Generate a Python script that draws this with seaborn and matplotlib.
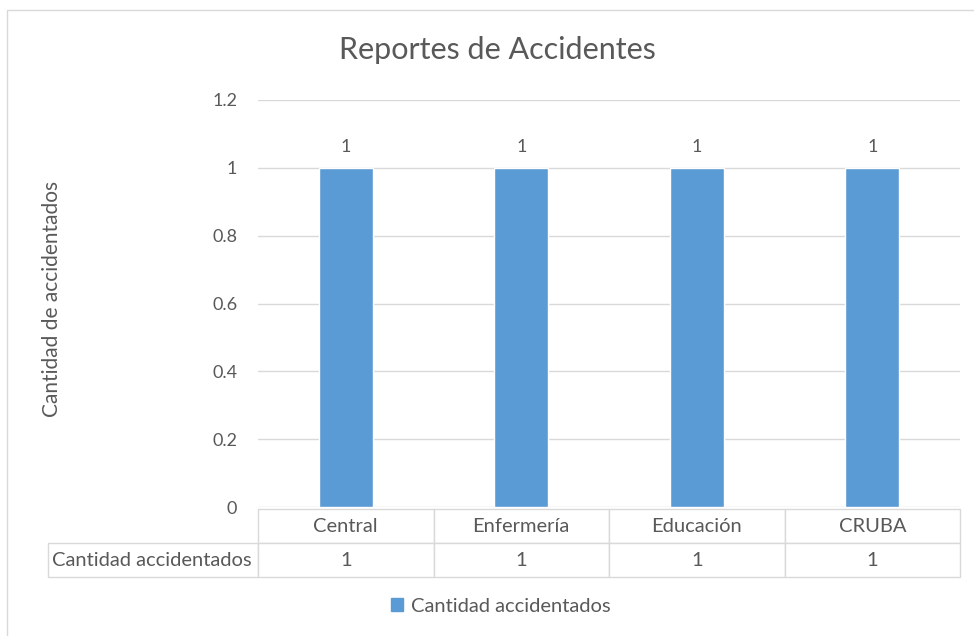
import matplotlib
matplotlib.use("Agg")
import matplotlib.pyplot as plt
import seaborn as sns
import pandas as pd
from matplotlib.patches import Rectangle

# Datos
areas = ["Central", "Enfermería", "Educación", "CRUBA"]
accidentados = [1, 1, 1, 1]
serie = "Cantidad accidentados"
yticks = [0, 0.2, 0.4, 0.6, 0.8, 1, 1.2]
ytick_labels = ["0", "0.2", "0.4", "0.6", "0.8", "1", "1.2"]

df = pd.DataFrame({"Area": areas, serie: accidentados})

sns.set_style("white")
plt.rcParams["font.family"] = ["Lato", "DejaVu Sans"]

gris = "#595959"
linea = "#d9d9d9"
azul = "#5B9BD5"

fig = plt.figure(figsize=(9.74, 6.36), dpi=100)
ax = fig.add_axes([258 / 974, 1 - 507 / 636, 702 / 974, 407 / 636])

sns.barplot(data=df, x="Area", y=serie, color=azul, width=0.31,
            saturation=1, ax=ax, errorbar=None)
ax.bar_label(ax.containers[0], labels=[str(v) for v in accidentados],
             padding=9, color=gris, fontsize=13)

ax.set_ylim(0, 1.2)
ax.set_xlim(-0.5, 3.5)
ax.set_yticks(yticks)
ax.set_yticklabels(ytick_labels, color=gris, fontsize=13)
ax.tick_params(axis="y", length=0, pad=15)
ax.set_xticks([])
ax.set_xlabel("")
ax.set_ylabel("")
ax.grid(axis="y", color=linea, linewidth=1)
ax.set_axisbelow(True)
for s in ax.spines.values():
    s.set_visible(False)

# Tabla de datos (primera columna = etiqueta de la serie)
tabla = ax.table(cellText=[[serie] + [str(v) for v in accidentados]],
                 colLabels=[""] + areas,
                 colWidths=[210 / 702] + [0.25] * 4,
                 cellLoc="center",
                 bbox=[-210 / 702, -70 / 407, 912 / 702, 68 / 407])
tabla.auto_set_font_size(False)
tabla.set_fontsize(14.5)
for (r, c), celda in tabla.get_celld().items():
    celda.set_edgecolor(linea)
    celda.get_text().set_color(gris)
    celda.set_linewidth(1)
tabla[0, 0].set_visible(False)
tabla[1, 0].PAD = 0.02
tabla[1, 0].get_text().set_horizontalalignment("left")
tabla[1, 0]._loc = "left"

# Eje y
fig.text(52 / 974, 1 - 299 / 636, "Cantidad de accidentados", rotation=90,
         ha="center", va="center", color=gris, fontsize=15)

# Título
fig.text(497 / 974, 1 - 50 / 636, "Reportes de Accidentes", ha="center",
         va="center", color=gris, fontsize=22)

# Leyenda
fig.legend(handles=[Rectangle((0, 0), 1, 1, color=azul)], labels=[serie],
           loc="center", bbox_to_anchor=(501 / 974, 1 - 606 / 636),
           frameon=False, handlelength=0.6, handleheight=0.6,
           handletextpad=0.4, labelcolor=gris, fontsize=14.5)

# Marco del gráfico
fig.patches.append(Rectangle((7 / 974, -0.1), 1.2, 1 - 10 / 636 + 0.1,
                             transform=fig.transFigure, fill=False,
                             edgecolor=linea, linewidth=1))

fig.savefig("out.png", dpi=100)
